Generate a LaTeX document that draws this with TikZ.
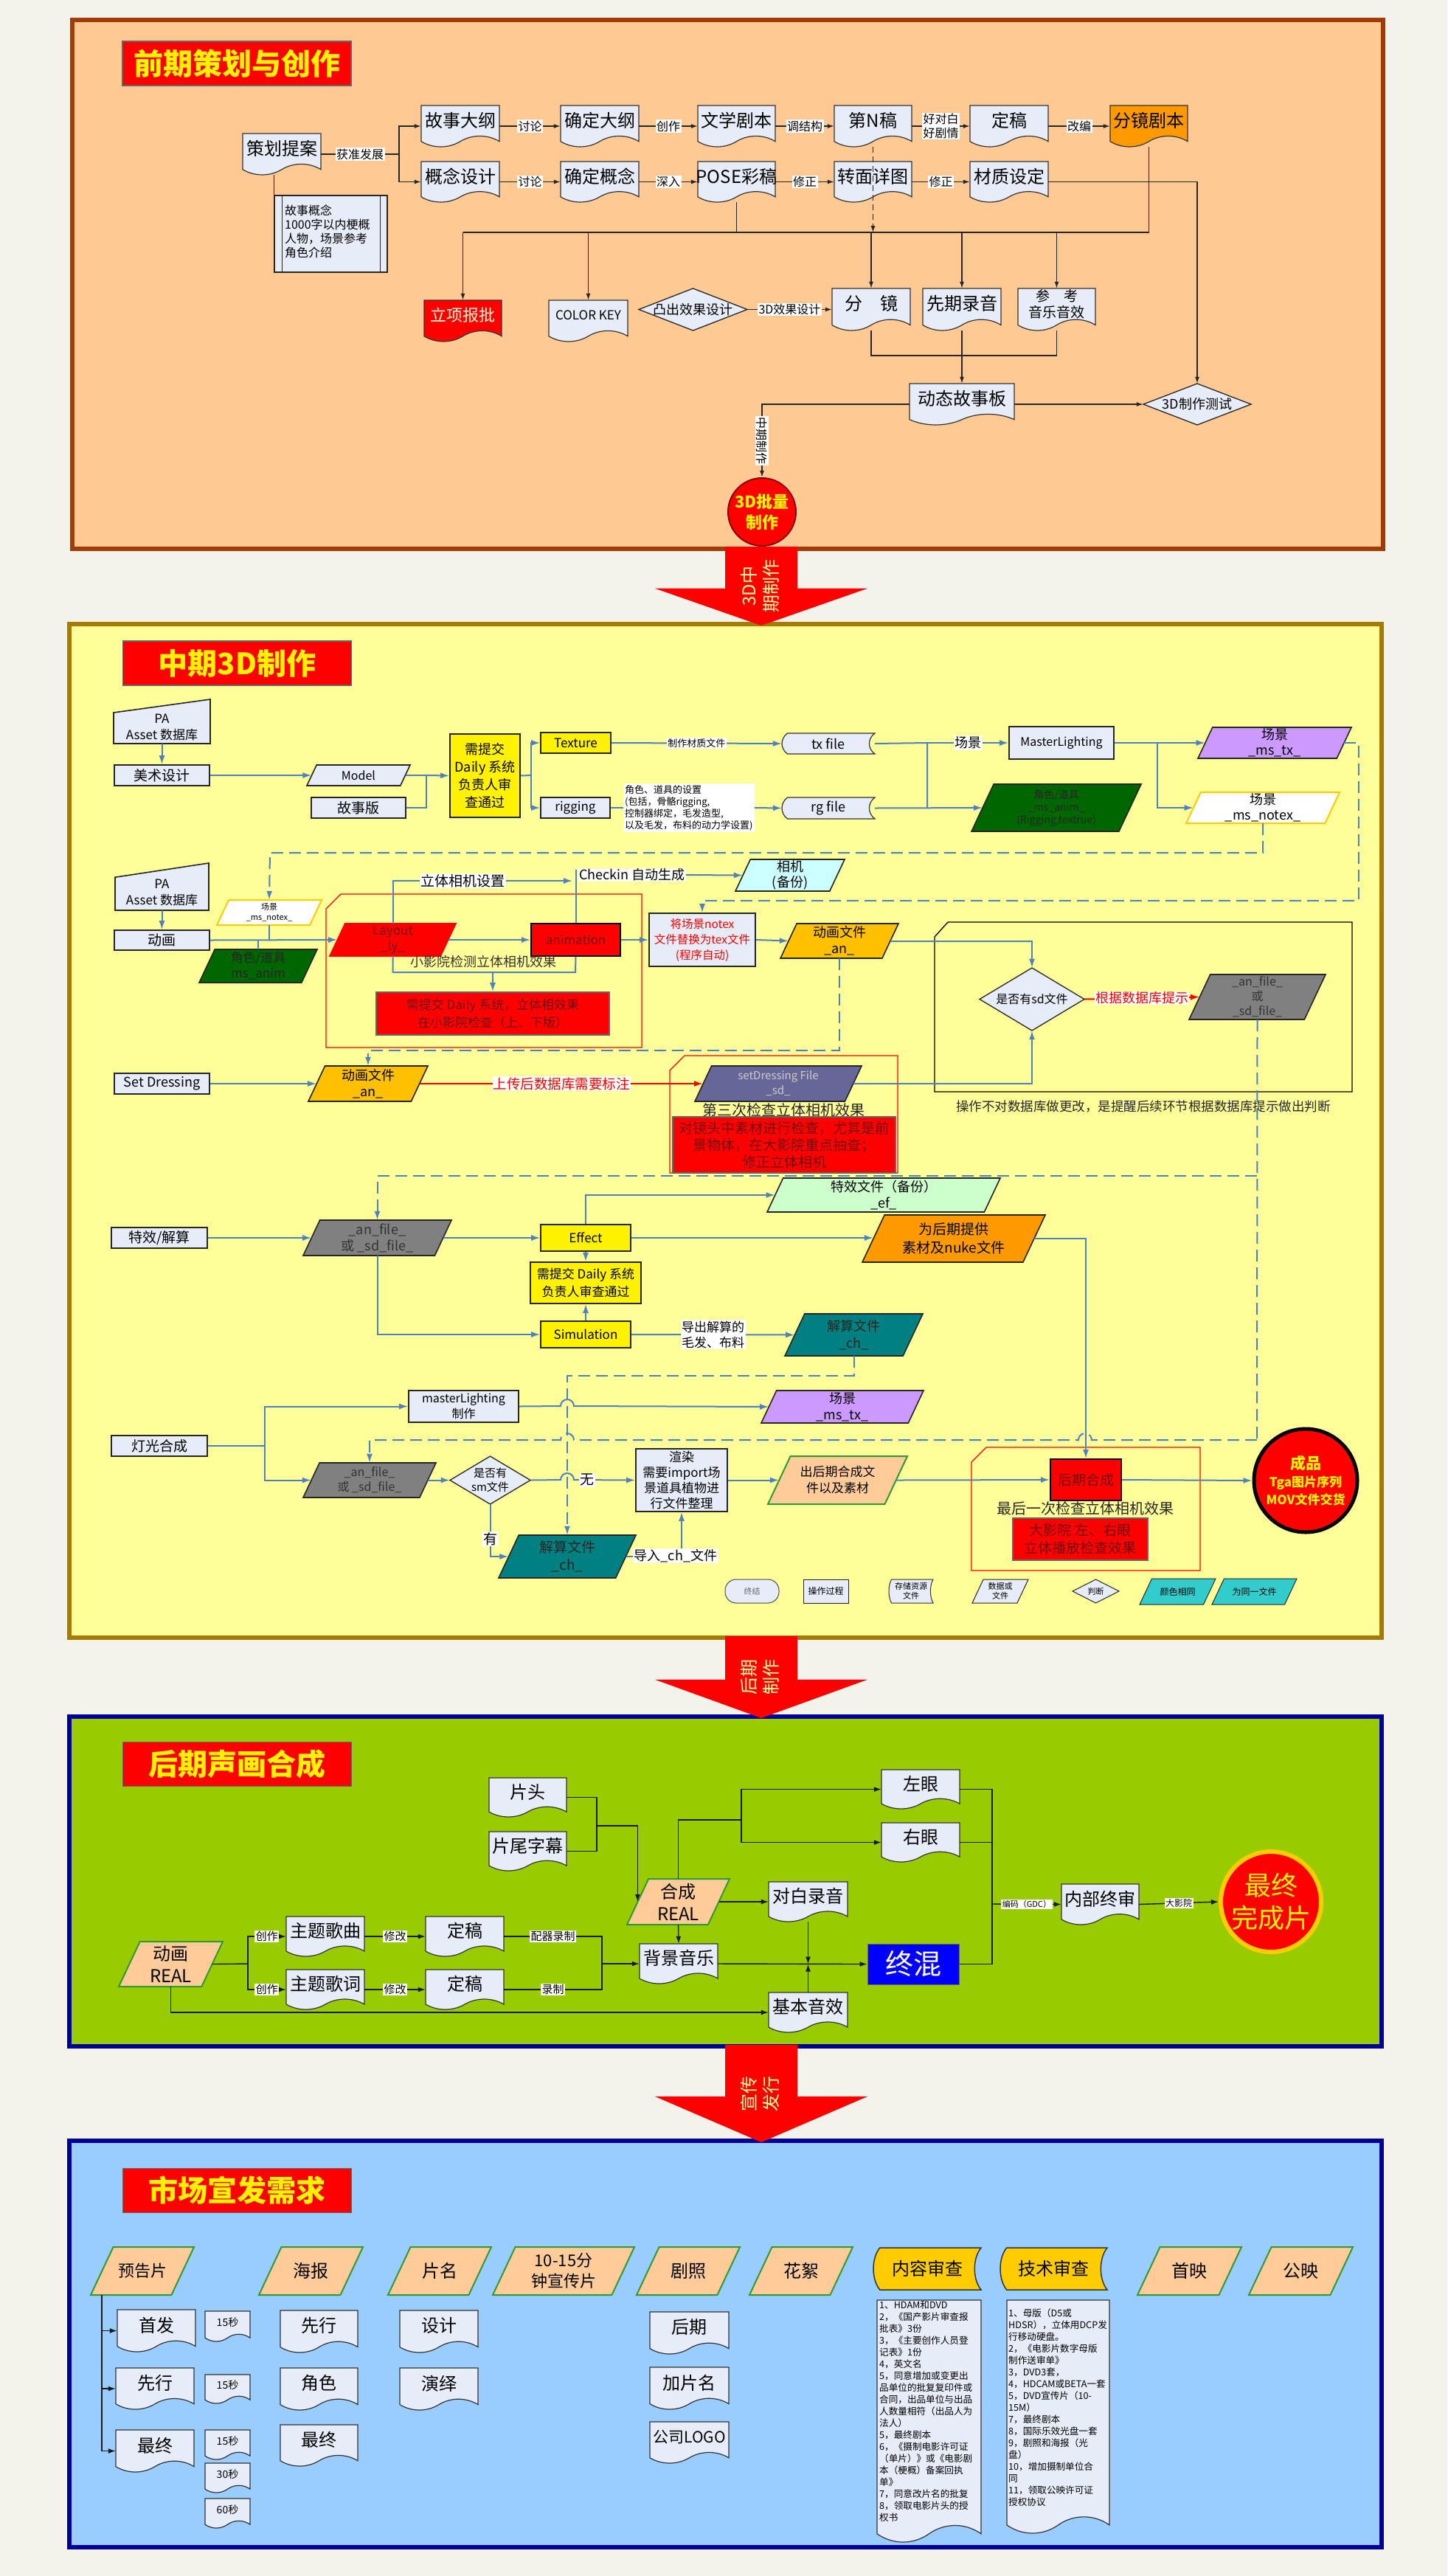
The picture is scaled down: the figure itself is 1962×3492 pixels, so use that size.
\documentclass[tikz,border=0pt]{standalone}
\usepackage{fontspec}
\setmainfont{Noto Sans CJK SC}
\usetikzlibrary{arrows.meta,calc}
\newcommand\fs[1]{\fontsize{#1}{\dimexpr #1pt*6/5\relax}\selectfont}
\newcommand\fz[2]{\fontsize{#1}{#2}\selectfont}
\definecolor{pagebg}{HTML}{F3F3EC}
\definecolor{peach1}{HTML}{FFC994}
\definecolor{brn}{HTML}{A13B08}
\definecolor{yel2}{HTML}{FFFF99}
\definecolor{gold2}{HTML}{A67C00}
\definecolor{grn3}{HTML}{99CC00}
\definecolor{navy}{HTML}{000099}
\definecolor{sky4}{HTML}{99CCFF}
\definecolor{docf}{HTML}{E6ECF8}
\definecolor{orng}{HTML}{FF9900}
\definecolor{blueL}{HTML}{4F81BD}
\definecolor{anY}{HTML}{FFC000}
\definecolor{gray5}{HTML}{808080}
\definecolor{purp}{HTML}{CC99FF}
\definecolor{dgreen}{HTML}{006600}
\definecolor{teal5}{HTML}{008080}
\definecolor{slate}{HTML}{666699}
\definecolor{lcyan}{HTML}{CCFFFF}
\definecolor{lgreen}{HTML}{CCFFCC}
\definecolor{peachP}{HTML}{FFCC99}
\definecolor{darkred}{HTML}{7A0000}
\definecolor{legc}{HTML}{33CCCC}
\definecolor{pgreen}{HTML}{339933}
\definecolor{ylw}{HTML}{FFCC00}
\definecolor{paleY}{HTML}{FFFFAA}
\tikzset{
 docbase/.style={fill=docf, draw=black!80, line width=1.2pt},
 doctext/.style={inner sep=0pt, align=center, font=\fs{24}},
 parabase/.style={fill=docf, draw=black!85, line width=1.6pt},
 paratext/.style={inner sep=0pt, align=center, font=\fs{17}, text=black},
 box2/.style={fill=docf, draw=black!85, line width=1.6pt, inner sep=0pt, align=center, font=\fs{19}},
 title/.style={fill=red, draw=black!60, line width=1.2pt, text=yellow, font=\fs{40}\bfseries, minimum width=310pt, minimum height=60pt, inner sep=0pt},
 s1/.style={draw=black!85, line width=1.3pt},
 s1a/.style={s1, -{Latex[length=9pt,width=6pt]}},
 lab/.style={fill=white, inner sep=1.5pt, font=\fs{16}},
 lab3/.style={fill=white, inner sep=1.5pt, font=\fs{15}},
 bp/.style={draw=blueL, line width=2pt},
 ba/.style={bp, -{Latex[length=12pt,width=8pt]}},
 bd/.style={bp, dash pattern=on 16pt off 8pt},
 bda/.style={bd, -{Latex[length=12pt,width=8pt]}},
 ra/.style={draw=red, line width=2pt, -{Latex[length=12pt,width=8pt]}},
 redc/.style={draw=red, line width=1.3pt},
 s3/.style={draw=black!90, line width=1.4pt},
 s3a/.style={s3, -{Latex[length=10pt,width=7pt]}},
}
% document shape
\NewDocumentCommand\DOC{O{} O{} m m m m m m}{%
 \pgfmathsetmacro\qw{#6-#4}%
 \pgfmathsetmacro\qh{#7-#5}%
 \pgfmathsetmacro\qa{min(0.13*\qh,0.08*\qw)}%
 \pgfmathsetmacro\qb{#7-\qa}%
 \pgfmathsetmacro\qt{#5+0.42*(\qb-#5)}%
 \path[docbase,#1] (#4,#5) -- (#6,#5) -- (#6,\qb) .. controls ({#4+0.85*\qw},{\qb-1.33*\qa}) and ({#4+0.65*\qw},{\qb-1.33*\qa}) .. ({#4+0.5*\qw},\qb) .. controls ({#4+0.35*\qw},{\qb+1.33*\qa}) and ({#4+0.15*\qw},{\qb+1.33*\qa}) .. (#4,\qb) -- cycle;
 \node[inner sep=0pt,minimum width=\qw,minimum height=\qh] (#3) at ({(#4+#6)/2},{(#5+#7)/2}) {};
 \node[doctext,#2] (#3-t) at ({(#4+#6)/2},\qt) {#8};}
% parallelogram
\NewDocumentCommand\PARA{O{} O{} m m m m m m}{%
 \pgfmathsetmacro\qw{#6-#4}%
 \pgfmathsetmacro\qh{#7-#5}%
 \pgfmathsetmacro\qs{0.47*\qh}%
 \path[parabase,#1] ({#4+\qs},#5) -- (#6,#5) -- ({#6-\qs},#7) -- (#4,#7) -- cycle;
 \node[paratext,#2,minimum width={\qw-\qs},minimum height=\qh] (#3) at ({(#4+#6)/2},{(#5+#7)/2}) {#8};}
% stored data
\NewDocumentCommand\STORE{O{} O{} m m m m m m}{%
 \pgfmathsetmacro\qw{#6-#4}%
 \pgfmathsetmacro\qh{#7-#5}%
 \pgfmathsetmacro\qc{0.06*\qw}%
 \path[docbase,#1] ({#4+\qc},#5) -- (#6,#5) .. controls ({#6-1.33*\qc},{#5+0.25*\qh}) and ({#6-1.33*\qc},{#7-0.25*\qh}) .. (#6,#7) -- ({#4+\qc},#7) .. controls ({#4-0.33*\qc},{#7-0.25*\qh}) and ({#4-0.33*\qc},{#5+0.25*\qh}) .. ({#4+\qc},#5) -- cycle;
 \node[paratext,#2,minimum width=\qw,minimum height=\qh] (#3) at ({(#4+#6)/2},{(#5+#7)/2}) {#8};}
% diamond
\NewDocumentCommand\DIA{O{} O{} m m m m m m}{%
 \path[parabase,line width=1.3pt,#1] ({(#4+#6)/2},#5) -- (#6,{(#5+#7)/2}) -- ({(#4+#6)/2},#7) -- (#4,{(#5+#7)/2}) -- cycle;
 \node[paratext,#2,minimum width={#6-#4},minimum height={#7-#5}] (#3) at ({(#4+#6)/2},{(#5+#7)/2}) {#8};}
% manual input
\NewDocumentCommand\MAN{O{} O{} m m m m m m}{%
 \path[parabase,#1] (#4,{#5+0.3*(#7-#5)}) -- (#6,#5) -- (#6,#7) -- (#4,#7) -- cycle;
 \node[inner sep=0pt,minimum width={#6-#4},minimum height={#7-#5}] (#3) at ({(#4+#6)/2},{(#5+#7)/2}) {};
 \node[paratext,font={\fz{17}{22}},#2] (#3-t) at ({(#4+#6)/2},{#5+0.63*(#7-#5)}) {#8};}
% box
\NewDocumentCommand\BOX{O{} m m m m m m}{%
 \node[box2,#1,minimum width={#5-#3},minimum height={#6-#4}] (#2) at ({(#3+#5)/2},{(#4+#6)/2}) {#7};}
% big red arrow
\NewDocumentCommand\BIGARR{m m m m}{%
 \pgfmathsetmacro\qm{#2+0.53*(#3-#2)}%
 \fill[red] (983,#2) -- (1081,#2) -- (1081,\qm) -- (1176,\qm) -- (1032,#3) -- (888,\qm) -- (983,\qm) -- cycle;
 \node[rotate=90, text=paleY, align=center, font={\fz{24}{30}}] (#1) at (1030,{#2+0.5*(#3-#2)}) {#4};}

\begin{document}
\begin{tikzpicture}[x=1pt,y=-1pt]
\useasboundingbox (0,0) rectangle (1962,3492);
\fill[pagebg] (0,0) rectangle (1962,3492);

%================ SECTION 1 =================
\draw[line width=6pt, draw=brn, fill=peach1] (98,27) rectangle (1875,744);
\node[title] (T1) at (321,86) {前期策划与创作};

\DOC{cehua}{329}{181}{435}{237}{策划提案}
\DOC{gushi}{571}{143}{677}{199}{故事大纲}
\DOC{gainian}{571}{219}{677}{274}{概念设计}
\DOC{qddg}{760}{143}{866}{199}{确定大纲}
\DOC{qdgn}{760}{219}{866}{274}{确定概念}
\DOC{wxjb}{946}{143}{1051}{199}{文学剧本}
\DOC{pose}{946}{219}{1051}{274}{POSE彩稿}
\DOC{dN}{1131}{143}{1236}{199}{第N稿}
\DOC{zmxt}{1131}{219}{1236}{274}{转面详图}
\DOC{dg}{1315}{143}{1421}{199}{定稿}
\DOC{czsd}{1315}{219}{1421}{274}{材质设定}
\DOC[fill=orng]{fjjb}{1505}{143}{1610}{199}{分镜剧本}

\node[draw=black!85, fill=docf, line width=1.2pt, minimum width=153, minimum height=104, inner sep=0pt] (note) at (448.5,317) {};
\draw[black!85, line width=1.2pt] ($(note.north west)+(11,0)$) -- ($(note.south west)+(11,0)$);
\draw[black!85, line width=1.2pt] ($(note.north east)+(-10,0)$) -- ($(note.south east)+(-10,0)$);
\node[anchor=north west, align=left, inner sep=0pt, font={\fz{16}{19}}] (notet) at (386,278) {故事概念\\1000字以内梗概\\人物，场景参考\\角色介绍};

\DOC[fill=red][text=white!85!yellow, font=\fs{22}]{lxbp}{575}{407}{680}{463}{立项报批}
\DOC[][font=\fs{17}]{ck}{744}{407}{851}{463}{COLOR KEY}
\DIA[][font=\fs{18}]{tuchu}{866}{391}{1013}{448}{凸出效果设计}
\DOC{fenjing}{1128}{391}{1234}{448}{分\quad 镜}
\DOC{xqly}{1251}{391}{1357}{448}{先期录音}
\DOC[][font={\fz{19}{22}}]{ckyy}{1380}{391}{1485}{448}{参\quad 考\\音乐音效}
\DOC{dtgsb}{1233}{520}{1375}{576}{动态故事板}
\DIA[][font=\fs{18}]{cszs}{1550}{520}{1696}{576}{3D制作测试}
\node[circle, fill=red, draw=red!55!black, line width=2pt, minimum size=92pt, inner sep=0pt, text=yellow, align=center, font={\fz{22}{28}\bfseries}] (c3d) at (1033,694) {3D批量\\制作};

\coordinate (j1) at (541,209);
\draw[s1] (cehua.east) -- node[lab]{获准发展} (j1);
\draw[s1a] (j1) |- (gushi.west);
\draw[s1a] (j1) |- (gainian.west);
\draw[s1a] (gushi.east) -- node[lab]{讨论} (qddg.west);
\draw[s1a] (qddg.east) -- node[lab]{创作} (wxjb.west);
\draw[s1a] (wxjb.east) -- node[lab]{调结构} (dN.west);
\draw[s1a] (dN.east) -- node[lab,align=center,font={\fz{16}{19}}]{好对白\\好剧情} (dg.west);
\draw[s1a] (dg.east) -- node[lab]{改编} (fjjb.west);
\draw[s1a] (gainian.east) -- node[lab]{讨论} (qdgn.west);
\draw[s1a] (qdgn.east) -- node[lab]{深入} (pose.west);
\draw[s1a] (pose.east) -- node[lab]{修正} (zmxt.west);
\draw[s1a] (zmxt.east) -- node[lab]{修正} (czsd.west);
\draw[s1] (cehua.south -| note.north west) -- (note.north west);

\coordinate (bus) at (628,315);
\draw[s1] (lxbp.north |- bus) -- (fjjb.south |- bus);
\draw[s1] (pose.south) -- (pose.south |- bus);
\draw[s1] (fjjb.south) -- (fjjb.south |- bus);
\draw[s1a, dash pattern=on 8pt off 5pt] (dN.south) -- (dN.south |- bus);
\draw[s1a] (lxbp.north |- bus) -- (lxbp.north);
\draw[s1a] (ck.north |- bus) -- (ck.north);
\draw[s1a] (fenjing.north |- bus) -- (fenjing.north);
\draw[s1a] (xqly.north |- bus) -- (xqly.north);
\draw[s1a] (ckyy.north |- bus) -- (ckyy.north);
\draw[s1a] (czsd.east) -| (cszs.north);
\draw[s1a] (tuchu.east) -- node[lab]{3D效果设计} (fenjing.west);
\coordinate (j482) at (1300,482);
\draw[s1] (fenjing.south) |- (j482) -| (ckyy.south);
\draw[s1a] (xqly.south) -- (dtgsb.north);
\draw[s1a] (dtgsb.east) -- (cszs.west);
\draw[s1a] (dtgsb.west) -| node[pos=0.75, lab, rotate=-90]{中期制作} (c3d.north);

%================ SECTION 2 =================
\draw[line width=6pt, draw=gold2, fill=yel2] (94,846) rectangle (1873,2220);
\BIGARR{A1}{741}{848}{3D中\\期制作}
\node[title] (T2) at (321.5,899) {中期3D制作};

% row 1
\MAN{pa1}{154}{948}{285}{1008}{PA\\Asset 数据库}
\BOX{msj}{155}{1037}{284}{1065}{美术设计}
\PARA[][font=\fs{16}]{model}{416}{1037}{556}{1065}{Model}
\BOX{gsb}{422}{1081}{550}{1109}{故事版}
\BOX[fill=yellow, font={\fz{18}{24}}]{daily1}{610}{995}{705}{1108}{需提交\\Daily 系统\\负责人审\\查通过}
\BOX[fill=yellow, font=\fs{17}]{texture}{733}{993}{828}{1021}{Texture}
\BOX[font=\fs{17}]{rigging}{733}{1081}{827}{1109}{rigging}
\node[fill=white, inner sep=2pt, align=left, anchor=west, font={\fz{13}{16}}] (rignote) at (845,1095) {角色、道具的设置\\(包括，骨骼rigging,\\控制器绑定，毛发造型,\\以及毛发，布料的动力学设置)};
\STORE[][font=\fs{18}]{txfile}{1060}{994}{1186}{1022}{tx file}
\STORE[][font=\fs{18}]{rgfile}{1060}{1081}{1186}{1110}{rg file}
\BOX[font=\fs{16}]{ml1}{1368}{985}{1510}{1029}{MasterLighting}
\PARA[fill=dgreen][font={\fz{14}{17}}, text=black!85]{msanim1}{1317}{1063}{1547}{1127}{角色/道具\\\_ms\_anim\_\\(Rigging,textrue)}
\PARA[fill=purp][font={\fz{18}{21}}]{mstx1}{1624}{986}{1832}{1028}{场景\\\_ms\_tx\_}
\PARA[fill=white, draw=ylw, line width=2pt][font={\fz{18}{21}}]{msnotex1}{1608}{1074}{1816}{1116}{场景\\\_ms\_notex\_}

\draw[ba] (pa1.south) -- (msj.north);
\draw[ba] (msj.east) -- (model.west);
\coordinate (j578) at (578,1051);
\draw[bp] (model.east) -- (j578);
\draw[bp] (gsb.east) -| (j578);
\draw[ba] (j578) -- (daily1.west);
\coordinate (j720) at (720,1051);
\draw[bp] (daily1.east) -- (j720);
\draw[ba] (j720) |- (texture.west);
\draw[ba] (j720) |- (rigging.west);
\draw[ba] (texture.east) -- node[lab, font=\fs{13}] {制作材质文件} (txfile.west);
\draw[bp] (rigging.east) -- (rignote.west);
\draw[ba] (rignote.east) -- (rgfile.west);
\coordinate (j1257) at (1257,1007);
\draw[bp] (txfile.east) -- (j1257) -- (j1257 |- rgfile.east);
\draw[ba] (rgfile.east) -- (msanim1.west);
\draw[ba] (j1257) -- node[lab, font=\fs{18}]{场景} (ml1.west);
\coordinate (j1569) at (1569,1007);
\draw[bp] (ml1.east) -- (j1569);
\draw[ba] (j1569) -- (mstx1.west);
\draw[ba] (j1569) |- (msnotex1.west);

% row 2
\MAN{pa2}{156}{1170}{283}{1234}{PA\\Asset 数据库}
\BOX{dh}{155}{1261}{284}{1288}{动画}
\PARA[fill=white, draw=ylw, line width=2pt][font={\fz{11}{14}}]{msnotex2}{294}{1220}{436}{1254}{场景\\\_ms\_notex\_}
\PARA[fill=dgreen][font={\fz{17}{21}}, text=black!85]{msanim2}{270}{1287}{430}{1332}{角色/道具\\ms\_anim}
\draw[redc] (442,1232) -- (462,1212) -- (870,1212) -- (870,1420) -- (442,1420) -- cycle;
\PARA[fill=red, draw=red][font={\fz{17}{21}}, text=darkred]{layout}{447}{1252}{618}{1296}{Layout\\\_ly\_}
\BOX[fill=red, draw=black, line width=2pt, text=darkred, font=\fs{17}]{anim}{720}{1252}{841}{1296}{animation}
\node[anchor=west, fill=white, inner sep=1pt, font=\fs{18}] (checkin) at (784,1186) {Checkin 自动生成};
\PARA[fill=lcyan][font={\fz{18}{21}}]{cam}{997}{1165}{1145}{1208}{相机\\(备份)}
\BOX[fill=red, draw=black!60, text=darkred, font={\fz{17}{24}}]{dailyred}{510}{1345}{826}{1403}{需提交 Daily 系统，立体相效果\\在小影院检查（上、下版）}
\BOX[fill=docf, text=red, font={\fz{15.5}{21}}]{jh}{880}{1238}{1024}{1310}{将场景notex\\文件替换为tex文件\\(程序自动)}
\PARA[fill=anY][font={\fz{18}{22}}]{an1}{1058}{1252}{1218}{1299}{动画文件\\\_an\_}
\draw[black, line width=1.3pt] (1267,1270) -- (1285,1250) -- (1833,1250) -- (1833,1480) -- (1267,1480) -- cycle;
\DIA[][font=\fs{16}]{sddia}{1328}{1312}{1470}{1397}{是否有sd文件}
\PARA[fill=gray5][font={\fz{16}{20}}, text=black!80]{anfile1}{1612}{1321}{1797}{1382}{\_an\_file\_\\或\\\_sd\_file\_}
\node[font=\fs{17.5}, text=black!85] (cap) at (1550,1500) {操作不对数据库做更改，是提醒后续环节根据数据库提示做出判断};

\draw[ba] (pa2.south) -- (dh.north);
\draw[ba] (dh.east) -- (layout.west);
\draw[bp] (msnotex2.south) -- (msnotex2.south |- dh.east);
\draw[bp] (msanim2.north) -- (msanim2.north |- dh.east);
\draw[ba] (layout.east) -- (anim.west);
\draw[ba] (layout.north) |- (776,1194);
\node[lab, font=\fs{19}] (ltxj) at (627,1194) {立体相机设置};
\draw[bp] (anim.north) -- ($(anim.north)+(0,-72)$);
\draw[ba] (checkin.east) -- (cam.west);
\draw[bp] (layout.south) |- (780,1318) -- (anim.south);
\draw[ba] (668,1318) -- (dailyred.north);
\node[font=\fs{18}, text=black!80] (l2c) at (655,1304) {小影院检测立体相机效果};
\draw[ba] (anim.east) -- (jh.west);
\draw[ba] (jh.east) -- (an1.west);
\draw[ba] (an1.east) -| (sddia.north);
\draw[ra] (sddia.east) -- node[fill=white, text=red, inner sep=1pt, font=\fs{18}] {根据数据库提示} (anfile1.west);
\draw[bda] (mstx1.east) -| (1842,1221) -| (jh.north);
\draw[bda] (msnotex1.south) |- (366,1156) -- (msnotex2.north);

% row 3
\BOX[font=\fs{18}]{sd}{155}{1455}{284}{1483}{Set Dressing}
\PARA[fill=anY][font={\fz{18}{22}}]{an2}{418}{1445}{580}{1493}{动画文件\\\_an\_}
\draw[redc] (908,1451) -- (928,1431) -- (1217,1431) -- (1217,1590) -- (908,1590) -- cycle;
\PARA[fill=slate][text=black!20, font={\fz{15}{20}}]{sdfile}{942}{1445}{1168}{1493}{setDressing File\\\_sd\_}
\node[font=\fs{20}, text=black!85] (l3c) at (1062,1505) {第三次检查立体相机效果};
\BOX[fill=red, draw=black!60, text=darkred, font={\fz{19}{23}}]{redbox2}{912}{1514}{1214}{1590}{对镜头中素材进行检查，尤其是前\\景物体，在大影院重点抽查；\\修正立体相机}

\draw[bda] (an1.south) |- ($(an2.north)+(0,-21)$) -- (an2.north);
\draw[ba] (sd.east) -- (an2.west);
\draw[ra] (an2.east) -- node[fill=white, text=red, inner sep=1pt, font=\fs{18.5}] {上传后数据库需要标注} (sdfile.west);
\draw[ba] (sdfile.east) -| (sddia.south);

% effects
\BOX{tx}{151}{1664}{281}{1692}{特效/解算}
\PARA[fill=gray5][text=black!80, font={\fz{18}{22}}]{anfile2}{411}{1654}{612}{1702}{\_an\_file\_\\或 \_sd\_file\_}
\BOX[fill=yellow, font=\fs{17}]{effect}{733}{1660}{855}{1696}{Effect}
\BOX[fill=yellow, font={\fz{17}{24}}]{daily2}{719}{1711}{869}{1767}{需提交 Daily 系统\\负责人审查通过}
\BOX[fill=yellow, font=\fs{17}]{simu}{733}{1791}{855}{1827}{Simulation}
\PARA[fill=lgreen][font={\fz{18}{22}}]{efbk}{1040}{1597}{1356}{1643}{特效文件（备份）\\\_ef\_}
\PARA[fill=orng][font={\fz{19}{25}}]{nuke}{1169}{1647}{1417}{1711}{为后期提供\\素材及nuke文件}
\PARA[fill=teal5][text=black!85, font={\fz{18}{23}}]{ch1}{1064}{1781}{1251}{1838}{解算文件\\\_ch\_}

\draw[bd] (anfile1.south) -- (1704,1952);
\draw[bda] (1704,1594) -| (anfile2.north);
\draw[ba] (tx.east) -- (anfile2.west);
\draw[ba] (anfile2.east) -- (effect.west);
\draw[ba] (effect.south) -- (daily2.north);
\draw[ba] (simu.north) -- (daily2.south);
\draw[ba] (anfile2.south) |- (simu.west);
\draw[ba] (effect.north) |- (efbk.west);
\draw[ba] (effect.east) -- (effect.east -| nuke.west);
\draw[ba] (simu.east) -- node[lab, align=left, font={\fz{17}{21}}]{导出解算的\\毛发、布料} (ch1.west);

% lighting
\BOX{dg2}{151}{1946}{281}{1974}{灯光合成}
\BOX[font={\fz{16}{21}}]{mlz}{554}{1885}{703}{1928}{masterLighting\\制作}
\PARA[fill=purp][font={\fz{18}{22}}]{mstx2}{1032}{1885}{1252}{1929}{场景\\\_ms\_tx\_}
\PARA[fill=gray5][text=black!80, font={\fz{16}{20}}]{anfile3}{411}{1983}{591}{2030}{\_an\_file\_\\或 \_sd\_file\_}
\DIA[][font={\fz{15}{19}}]{smdia}{610}{1974}{719}{2039}{是否有\\sm文件}
\BOX[font={\fz{17}{21}}]{render}{862}{1964}{986}{2049}{渲染\\需要import场\\景道具植物进\\行文件整理}
\PARA[fill=peachP, draw=pgreen, line width=2pt][font={\fz{17}{22}}]{pre}{1041}{1974}{1230}{2039}{出后期合成文\\件以及素材}
\PARA[fill=teal5][text=black!85, font={\fz{19}{24}}]{ch2}{676}{2081}{862}{2139}{解算文件\\\_ch\_}
\draw[redc] (1317,1982) -- (1337,1962) -- (1627,1962) -- (1627,2129) -- (1317,2129) -- cycle;
\BOX[fill=red, draw=black, line width=2pt, text=darkred, font=\fs{19}]{hq}{1424}{1978}{1520}{2034}{后期合成}
\node[font=\fs{20}, text=black!85] (l4c) at (1471,2045) {最后一次检查立体相机效果};
\BOX[fill=red, draw=black!60, text=darkred, font={\fz{19}{24}}]{redbox3}{1373}{2058}{1556}{2115}{大影院 左、右眼\\立体播放检查效果}
\node[circle, fill=red, draw=black, line width=5pt, minimum size=140pt, inner sep=0pt, text=yellow, align=center, font={\fz{17}{24}\bfseries}] (final) at (1770,2007) {{\fs{21}\bfseries 成品}\\Tga图片序列\\MOV文件交货};

\draw[ba] (nuke.east) -| (hq.north);
\draw[bda] (ch1.south) |- (769,1865) -- (ch2.north);
\coordinate (j359) at (359,1960);
\draw[bp] (dg2.east) -- (j359);
\draw[ba] (j359) |- (mlz.west);
\draw[ba] (j359) |- (anfile3.west);
\draw[ba] (mlz.east) -- (760,1906) arc[start angle=180, end angle=360, radius=9] -- (mstx2.west);
\draw[bda] (1704,1952) -- (1480,1952) arc[start angle=0, end angle=-180, radius=9] -- (778,1952) arc[start angle=0, end angle=-180, radius=9] -| (anfile3.north);
\draw[ba] (anfile3.east) -- (smdia.west);
\draw[ba] (smdia.east) -- (760,2006) arc[start angle=180, end angle=360, radius=9] -- node[pos=0.22, lab, font=\fs{19}]{无} (render.west);
\draw[ba] (smdia.south) |- node[pos=0.33, lab, font=\fs{19}]{有} (ch2.west);
\draw[ba] (ch2.east) -| (render.south);
\node[lab, font=\fs{18}] (drch) at (916,2109) {导入\_ch\_文件};
\draw[ba] (render.east) -- (pre.west);
\draw[ba] (pre.east) -- (hq.west);
\draw[ba] (hq.east) -- (final.west);

% legend
\node[draw=black!70, fill=docf, line width=1pt, rounded corners=15pt, minimum width=73, minimum height=32, inner sep=0pt, font=\fs{11}, text=black!60] (lg1) at (1019.5,2157) {终结};
\BOX[font=\fs{12}, line width=1pt]{lg2}{1089}{2141}{1150}{2173}{操作过程}
\STORE[line width=1pt][font={\fz{11}{13}}]{lg3}{1205}{2141}{1265}{2173}{存储资源\\文件}
\PARA[line width=1pt][font={\fz{11}{13}}]{lg4}{1318}{2141}{1394}{2173}{数据或\\文件}
\DIA[line width=1pt][font=\fs{11}]{lg5}{1454}{2141}{1517}{2173}{判断}
\PARA[fill=legc, line width=1pt][font=\fs{12}]{lg6}{1545}{2140}{1648}{2175}{颜色相同}
\PARA[fill=legc, line width=1pt][font=\fs{12}]{lg7}{1643}{2140}{1758}{2175}{为同一文件}

%================ SECTION 3 =================
\draw[line width=6pt, draw=navy, fill=grn3] (94,2327) rectangle (1873,2774);
\BIGARR{A2}{2218}{2329}{后期\\制作}
\node[title] (T3) at (321.5,2391.5) {后期声画合成};

\DOC{pt}{663}{2410}{768}{2463}{片头}
\DOC{pwzm}{663}{2483}{768}{2536}{片尾字幕}
\PARA[fill=peachP, draw=pgreen, line width=2pt][font={\fz{24}{30}}]{hc}{850}{2547}{989}{2609}{合成\\REAL}
\DOC{zy}{1195}{2399}{1301}{2452}{左眼}
\DOC{yy}{1195}{2471}{1301}{2524}{右眼}
\DOC{dbly}{1042}{2551}{1149}{2605}{对白录音}
\DOC{bjyy}{867}{2635}{973}{2689}{背景音乐}
\PARA[fill=peachP, draw=pgreen, line width=2pt][font={\fz{24}{30}}]{dh3}{161}{2632}{302}{2693}{动画\\REAL}
\DOC{ztgq}{388}{2598}{494}{2652}{主题歌曲}
\DOC{ztgc}{388}{2670}{494}{2724}{主题歌词}
\DOC{dg3a}{577}{2598}{683}{2652}{定稿}
\DOC{dg3b}{577}{2670}{683}{2724}{定稿}
\DOC{jbyx}{1042}{2701}{1149}{2755}{基本音效}
\node[fill=blue, draw=black!60, line width=1pt, minimum width=124, minimum height=55, inner sep=0pt, text=white, font=\fs{38}] (zh) at (1238,2662.5) {终混};
\DOC{nbzs}{1439}{2554}{1544}{2609}{内部终审}
\node[circle, fill=red, draw=ylw, line width=6pt, minimum size=136pt, inner sep=0pt, text=yellow, align=center, font={\fz{36}{44}}] (zzwc) at (1723,2578) {最终\\完成片};

\coordinate (p3a) at (809,2475);
\draw[s3] (pt.east) -| (p3a);
\draw[s3] (pwzm.east) -| (p3a);
\draw[s3a] (p3a) -| (hc.west);
\coordinate (p3b) at (1005,2467);
\draw[s3] (hc.north) |- (p3b);
\draw[s3a] (p3b) |- (zy.west);
\draw[s3a] (p3b) |- (yy.west);
\draw[s3a] (hc.east) -- (dbly.west);
\draw[s3a] (hc.south) -- (bjyy.north);
\coordinate (p3c) at (336,2662);
\draw[s3] (dh3.east) -- (p3c);
\draw[s3a] (p3c) |- node[pos=0.75, lab3]{创作} (ztgq.west);
\draw[s3a] (p3c) |- node[pos=0.75, lab3]{创作} (ztgc.west);
\draw[s3a] (ztgq.east) -- node[lab3]{修改} (dg3a.west);
\draw[s3a] (ztgc.east) -- node[lab3]{修改} (dg3b.west);
\coordinate (p3d) at (816,2662);
\draw[s3] (dg3a.east) -| node[pos=0.25, lab3]{配器录制} (p3d);
\draw[s3] (dg3b.east) -| node[pos=0.25, lab3]{录制} (p3d);
\draw[s3a] (p3d) -- (bjyy.west);
\draw[s3a] (dh3.south) |- (jbyx.west);
\draw[s3a] (bjyy.east) -- (zh.west);
\draw[s3a] (dbly.south) -- (dbly.south |- zh.west);
\draw[s3a] (jbyx.north) -- (jbyx.north |- zh.west);
\coordinate (p3e) at (1345,2581);
\draw[s3] (zy.east) -| (p3e);
\draw[s3] (yy.east) -| (p3e);
\draw[s3] (zh.east) -| (p3e);
\draw[s3a] (p3e) -- node[lab3, font=\fs{11}]{编码（GDC）} (nbzs.west);
\draw[s3a] (nbzs.east) -- node[lab3, font=\fs{12}]{大影院} (zzwc.west);

%================ SECTION 4 =================
\draw[line width=6pt, draw=navy, fill=sky4] (94,2902) rectangle (1873,3453);
\BIGARR{A3}{2772}{2904}{宣传\\发行}
\node[title] (T4) at (321.5,2969.5) {市场宣发需求};

\tikzset{p4/.style={fill=peachP, draw=pgreen, line width=2pt}}
\PARA[p4][font=\fs{22}]{ygp}{123}{3046}{263}{3111}{预告片}
\PARA[p4][font=\fs{24}]{hb}{351}{3046}{492}{3111}{海报}
\PARA[p4][font=\fs{24}]{pm}{526}{3046}{666}{3111}{片名}
\PARA[p4][font={\fz{22}{28}}]{xcp}{668}{3046}{860}{3111}{10-15分\\钟宣传片}
\PARA[p4][font=\fs{24}]{jz}{863}{3046}{1003}{3111}{剧照}
\PARA[p4][font=\fs{24}]{hx}{1016}{3046}{1156}{3111}{花絮}
\STORE[fill=ylw, line width=1.5pt][font=\fs{24}]{nrsc}{1184}{3047}{1330}{3104}{内容审查}
\STORE[fill=ylw, line width=1.5pt][font=\fs{24}]{jssc}{1356}{3047}{1501}{3104}{技术审查}
\PARA[p4][font=\fs{24}]{sy}{1542}{3046}{1683}{3111}{首映}
\PARA[p4][font=\fs{24}]{gy}{1693}{3046}{1834}{3111}{公映}

\DOC{sf}{159}{3131}{265}{3188}{首发}
\DOC[][font=\fs{14}]{s15a}{278}{3133}{339}{3174}{15秒}
\DOC{xx}{157}{3210}{263}{3266}{先行}
\DOC[][font=\fs{14}]{s15b}{278}{3219}{339}{3258}{15秒}
\DOC{zz}{157}{3294}{263}{3351}{最终}
\DOC[][font=\fs{14}]{s15c}{278}{3294}{339}{3334}{15秒}
\DOC[][font=\fs{14}]{s30}{278}{3339}{339}{3379}{30秒}
\DOC[][font=\fs{14}]{s60}{278}{3387}{339}{3427}{60秒}
\DOC{hb1}{380}{3132}{485}{3189}{先行}
\DOC{hb2}{380}{3210}{485}{3267}{角色}
\DOC{hb3}{380}{3287}{485}{3343}{最终}
\DOC{pm1}{542}{3132}{648}{3189}{设计}
\DOC{pm2}{542}{3210}{648}{3267}{演绎}
\DOC{jz1}{881}{3134}{988}{3191}{后期}
\DOC{jz2}{881}{3209}{988}{3266}{加片名}
\DOC[][font=\fs{21}]{jz3}{881}{3283}{988}{3339}{公司LOGO}
\DOC{nrlist}{1189}{3118}{1330}{3446}{}
\DOC{jslist}{1365}{3118}{1504}{3434}{}
\node[anchor=north west, align=left, inner sep=0pt, font={\fz{12.6}{16}}] (nrtext) at (1192,3119) {1、HDAM和DVD\\2，《国产影片审查报\\批表》3份\\3，《主要创作人员登\\记表》1份\\4，英文名\\5，同意增加或变更出\\品单位的批复复印件或\\合同，出品单位与出品\\人数量相符（出品人为\\法人）\\5，最终剧本\\6，《摄制电影许可证\\（单片）》或《电影剧\\本（梗概）备案回执\\单》\\7，同意改片名的批复\\8，领取电影片头的授\\权书};
\node[anchor=north west, align=left, inner sep=0pt, font={\fz{12.6}{16}}] (jstext) at (1367,3129) {1、母版（D5或\\HDSR），立体用DCP发\\行移动硬盘。\\2，《电影片数字母版\\制作送审单》\\3，DVD3套，\\4，HDCAM或BETA一套\\5，DVD宣传片（10-\\15M）\\7，最终剧本\\8，国际乐效光盘一套\\9，剧照和海报（光\\盘）\\10，增加摄制单位合\\同\\11，领取公映许可证\\授权协议};

\draw[s3] (ygp.south west) -- (ygp.south west |- zz.west);
\draw[s3a] (ygp.south west |- sf.west) -- (sf.west);
\draw[s3a] (ygp.south west |- xx.west) -- (xx.west);
\draw[s3a] (ygp.south west |- zz.west) -- (zz.west);

\end{tikzpicture}
\end{document}
